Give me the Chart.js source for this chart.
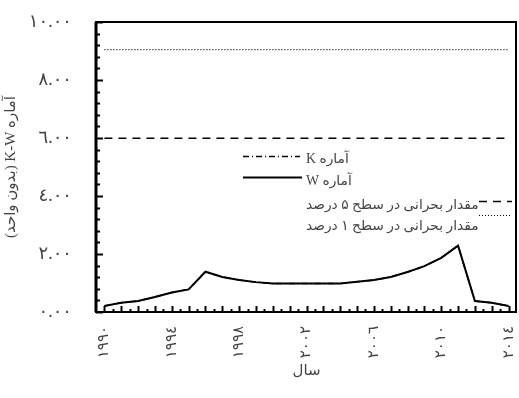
<!DOCTYPE html>
<html>
<head>
<meta charset="utf-8">
<script src="https://cdn.jsdelivr.net/npm/chart.js@4.4.1/dist/chart.umd.min.js"></script>
<style>
    html, body { margin: 0; padding: 0; background: #fff; }
    #contenedor { width: 519px; height: 398px; }
</style>
</head>
<body>
<div id="contenedor"><canvas id="grafico"></canvas></div>
<script>
// Datos
const anios = [1990, 1991, 1992, 1993, 1994, 1995, 1996, 1997, 1998, 1999, 2000, 2001, 2002,
               2003, 2004, 2005, 2006, 2007, 2008, 2009, 2010, 2011, 2012, 2013, 2014];
const valoresW = [0.21, 0.32, 0.38, 0.52, 0.67, 0.78, 1.39, 1.21, 1.10, 1.03, 0.98, 0.98, 0.98,
                  0.98, 0.98, 1.04, 1.10, 1.21, 1.38, 1.58, 1.87, 2.29, 0.38, 0.32, 0.21];
const valoresK = [0.21, 0.32, 0.38, 0.52, 0.67, 0.78, 1.39, 1.21, 1.10, 1.03, 0.98, 0.98, 0.98,
                  0.98, 0.98, 1.04, 1.10, 1.21, 1.38, 1.58, 1.87, 2.29, 0.38, 0.32, 0.21];
const aniosCriticos = [1990, 2014];
const critico5 = [5.99, 5.99];
const critico1 = [9.05, 9.05];

const ticksX = [1990, 1994, 1998, 2002, 2006, 2010, 2014];
const ticksY = [0, 2, 4, 6, 8, 10];

const etiquetas = ['K آماره', 'W آماره', 'مقدار بحرانی در سطح ۵ درصد', 'مقدار بحرانی در سطح ۱ درصد'];
const tituloX = 'سال';
const tituloY = '(بدون واحد) K-W آماره';

const aArabe = (s) => String(s).replace(/\d/g, (d) => '٠١٢٣٤٥٦٧٨٩'[d]);
const puntos = (xs, ys) => xs.map((x, i) => ({ x: x, y: ys[i] }));

const colorTexto = '#444';
const fuente = "'Liberation Serif', 'DejaVu Sans', serif";

// Marco negro y marcas hacia dentro (mayores y menores)
const marcoYMarcas = {
    id: 'marcoYMarcas',
    afterDatasetsDraw(chart) {
        const { ctx, chartArea: a, scales } = chart;
        ctx.save();
        ctx.strokeStyle = '#000';
        ctx.lineWidth = 2;
        // marcas eje Y cada 0.4
        for (let i = 0; i <= 25; i++) {
            const y = Math.round(scales.y.getPixelForValue(i * 0.4)) + 0.5;
            const largo = i % 5 === 0 ? 7 : 4;
            ctx.beginPath();
            ctx.moveTo(a.left, y);
            ctx.lineTo(a.left + largo, y);
            ctx.stroke();
        }
        // marcas eje X cada medio año
        for (let i = 0; i <= 48; i++) {
            const x = Math.round(scales.x.getPixelForValue(1990 + i * 0.5)) + 0.5;
            const largo = i % 2 === 0 ? 6 : 3;
            ctx.beginPath();
            ctx.moveTo(x, a.bottom);
            ctx.lineTo(x, a.bottom - largo);
            ctx.stroke();
        }
        ctx.strokeRect(a.left, a.top, a.right - a.left - 1, a.bottom - a.top);
        ctx.lineWidth = 3;
        ctx.beginPath();
        ctx.moveTo(a.left, a.top);
        ctx.lineTo(a.left, a.bottom);
        ctx.stroke();
        ctx.restore();
    }
};

// Leyenda dentro del área del gráfico, como en el original
const leyendaInterna = {
    id: 'leyendaInterna',
    afterDraw(chart) {
        const { ctx } = chart;
        const filas = [
            { ds: 0, x1: 243, x2: 300, yl: 156, tx: 306, ty: 159 },
            { ds: 1, x1: 243, x2: 302, yl: 177, tx: 306, ty: 181 },
            { ds: 2, x1: 479, x2: 512, yl: 201, tx: 306, ty: 205 },
            { ds: 3, x1: 479, x2: 512, yl: 215, tx: 306, ty: 226 },
        ];
        ctx.save();
        filas.forEach((f) => {
            const d = chart.data.datasets[f.ds];
            ctx.strokeStyle = d.borderColor;
            ctx.lineWidth = d.borderWidth;
            ctx.setLineDash(d.borderDash || []);
            ctx.beginPath();
            ctx.moveTo(f.x1, f.yl + 0.5);
            ctx.lineTo(f.x2, f.yl + 0.5);
            ctx.stroke();
            ctx.setLineDash([]);
            ctx.fillStyle = colorTexto;
            ctx.font = '13.8px ' + fuente;
            ctx.textAlign = 'left';
            ctx.textBaseline = 'middle';
            ctx.fillText(d.label, f.tx, f.ty);
        });
        ctx.restore();
    }
};

const ctx = document.getElementById('grafico').getContext('2d');
new Chart(ctx, {
    type: 'line',
    data: {
        datasets: [
            {
                label: etiquetas[0],
                data: puntos(anios, valoresK),
                borderColor: '#000',
                borderWidth: 1.5,
                borderDash: [6, 3, 1, 3],
                pointRadius: 0,
                order: 2,
            },
            {
                label: etiquetas[1],
                data: puntos(anios, valoresW),
                borderColor: '#000',
                borderWidth: 2,
                pointRadius: 0,
                order: 1,
            },
            {
                label: etiquetas[2],
                data: puntos(aniosCriticos, critico5),
                borderColor: '#000',
                borderWidth: 1.5,
                borderDash: [8, 6],
                pointRadius: 0,
            },
            {
                label: etiquetas[3],
                data: puntos(aniosCriticos, critico1),
                borderColor: '#000',
                borderWidth: 1.2,
                borderDash: [1, 2],
                pointRadius: 0,
            },
        ],
    },
    options: {
        responsive: true,
        maintainAspectRatio: false,
        animation: false,
        layout: { autoPadding: false, padding: { top: 22, right: 2, left: 0, bottom: 0 } },
        plugins: {
            legend: { display: false },
            tooltip: { enabled: false },
        },
        scales: {
            x: {
                type: 'linear',
                min: 1989.5,
                max: 2014.5,
                afterBuildTicks: (s) => { s.ticks = ticksX.map((v) => ({ value: v })); },
                afterFit: (s) => { s.height = 86; s.paddingLeft = 0; s.paddingRight = 0; },
                grid: { display: false, drawTicks: false },
                border: { display: false },
                ticks: {
                    autoSkip: false,
                    maxRotation: 90,
                    minRotation: 90,
                    padding: 14,
                    color: colorTexto,
                    font: { family: fuente, size: 15 },
                    callback: (v) => aArabe(v),
                },
                title: {
                    display: true,
                    text: tituloX,
                    color: colorTexto,
                    font: { family: fuente, size: 15 },
                    padding: { top: 0, bottom: 18 },
                },
            },
            y: {
                min: 0,
                max: 10,
                afterBuildTicks: (s) => { s.ticks = ticksY.map((v) => ({ value: v })); },
                afterFit: (s) => { s.width = 96; s.paddingTop = 0; s.paddingBottom = 0; },
                grid: { display: false, drawTicks: false },
                border: { display: false },
                ticks: {
                    padding: 24,
                    color: colorTexto,
                    font: { family: fuente, size: 18 },
                    callback: (v) => aArabe(v.toFixed(2)),
                },
                title: {
                    display: true,
                    text: tituloY,
                    color: colorTexto,
                    font: { family: fuente, size: 15 },
                    padding: { top: 2, bottom: 0 },
                },
            },
        },
    },
    plugins: [marcoYMarcas, leyendaInterna],
});
</script>
</body>
</html>
